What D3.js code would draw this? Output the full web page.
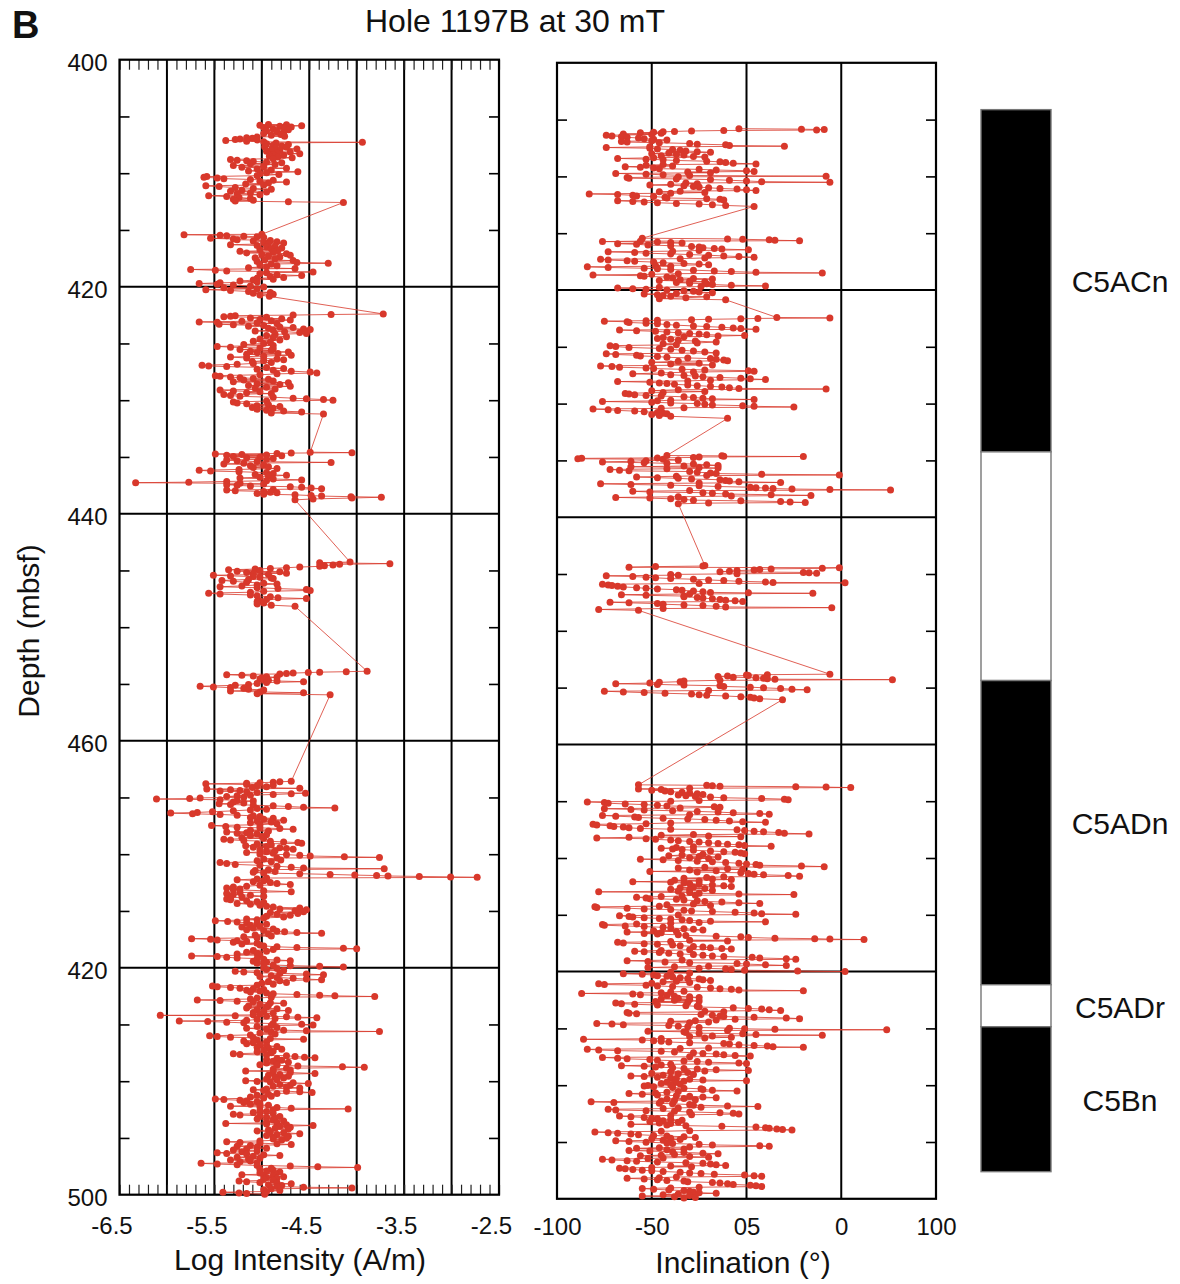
<!DOCTYPE html>
<html>
<head>
<meta charset="utf-8">
<script src="https://cdn.jsdelivr.net/npm/d3@7"></script>
<style>
  body { margin: 0; background: #fff; }
  svg { display: block; }
  text { font-family: "Liberation Sans", Arial, Helvetica, sans-serif; fill: #111; }
</style>
</head>
<body>
<svg id="chart" width="1180" height="1284"></svg>
<script>
// Hole 1197B, 30 mT demagnetization step: [depth (mbsf), log intensity (A/m)]
const intensityRecord = [
[405.70,-4.93],[405.74,-4.74],[405.78,-5.02],[405.82,-4.58],[405.87,-4.81],[405.92,-4.69],[405.97,-4.98],[406.02,-4.76],
[406.10,-4.88],[406.18,-4.72],[406.27,-4.95],[406.35,-4.84],[406.42,-4.77],[406.50,-4.98],[406.58,-4.80],[406.66,-4.90],[406.74,-4.76],
[406.82,-5.05],[406.88,-5.16],[406.93,-5.10],[406.98,-5.23],[407.03,-5.28],[407.08,-5.05],[407.12,-5.38],[407.18,-5.16],[407.24,-4.98],[407.28,-3.94],[407.33,-4.85],
[407.40,-4.95],[407.47,-4.72],[407.53,-4.88],[407.60,-4.79],[407.66,-4.97],[407.72,-4.74],[407.79,-4.86],[407.86,-4.63],[407.93,-4.90],[408.00,-4.81],[408.07,-4.95],[408.14,-4.70],[408.21,-4.84],[408.28,-4.60],[408.35,-4.88],[408.42,-4.77],[408.50,-4.92],[408.57,-4.83],[408.64,-4.68],
[408.72,-4.88],[408.79,-5.33],[408.85,-5.26],[408.90,-5.16],[408.96,-5.09],[409.02,-4.95],[409.08,-4.79],
[409.16,-5.12],[409.24,-4.86],[409.32,-5.30],[409.40,-4.98],[409.48,-5.21],[409.56,-4.74],[409.64,-5.05],[409.72,-4.90],[409.80,-5.14],[409.88,-4.62],[409.96,-4.95],[410.04,-5.02],[410.12,-4.82],
[410.22,-5.05],[410.30,-5.58],[410.36,-5.61],[410.42,-5.47],[410.48,-5.40],[410.55,-5.12],[410.62,-4.88],[410.70,-5.02],[410.78,-4.74],[410.86,-4.93],
[410.95,-5.17],[411.03,-4.98],[411.11,-5.59],[411.18,-5.45],[411.26,-5.28],[411.34,-5.09],[411.42,-4.90],[411.50,-5.21],[411.58,-5.33],[411.66,-4.95],[411.74,-5.12],[411.82,-5.26],[411.90,-5.02],
[411.98,-5.56],[412.06,-5.37],[412.14,-5.24],[412.22,-5.12],[412.30,-5.30],[412.38,-5.09],[412.46,-5.28],[412.52,-4.72],[412.58,-4.14],
[415.38,-5.00],[415.42,-5.82],[415.46,-5.44],[415.50,-5.37],[415.55,-5.19],[415.60,-5.05],[415.66,-4.98],
[415.74,-5.54],[415.80,-5.30],[415.86,-5.26],[415.92,-4.91],[415.98,-5.09],[416.04,-4.84],[416.10,-4.98],[416.16,-4.77],[416.22,-4.93],
[416.30,-5.33],[416.37,-5.05],[416.44,-4.86],[416.51,-4.95],[416.58,-4.79],[416.65,-4.90],[416.72,-5.02],[416.80,-4.83],
[416.88,-5.23],[416.95,-4.88],[417.02,-5.16],[417.09,-4.74],[417.16,-5.00],[417.23,-4.70],[417.30,-4.93],[417.38,-4.81],[417.46,-5.07],[417.54,-4.86],
[417.62,-4.97],[417.70,-4.67],[417.78,-5.05],[417.86,-4.63],[417.93,-4.30],[418.00,-4.90],
[418.08,-5.02],[418.16,-4.84],[418.24,-4.95],[418.32,-5.14],[418.40,-4.65],[418.48,-5.75],[418.55,-5.49],[418.62,-5.37],[418.70,-4.46],[418.78,-4.95],
[418.86,-5.02],[418.94,-4.84],[419.02,-4.58],[419.10,-4.91],[419.18,-4.77],[419.26,-5.05],[419.34,-4.88],
[419.42,-5.09],[419.50,-5.23],[419.58,-5.05],[419.66,-5.44],[419.72,-5.66],[419.78,-5.47],[419.86,-5.30],[419.94,-5.12],[420.02,-4.98],
[420.10,-5.40],[420.18,-5.05],[420.26,-5.59],[420.34,-5.33],[420.42,-5.14],[420.50,-4.91],[420.58,-5.09],[420.66,-4.88],[420.74,-5.02],[420.85,-4.92],
[422.40,-3.72],[422.45,-4.27],[422.50,-4.67],[422.55,-5.28],[422.60,-5.33],[422.65,-5.40],
[422.70,-4.95],[422.76,-5.12],[422.82,-4.79],[422.88,-5.02],[422.94,-4.70],[423.00,-4.90],[423.05,-5.21],[423.10,-5.66],[423.14,-5.47],[423.19,-5.05],[423.24,-4.84],
[423.30,-5.45],[423.36,-5.30],[423.42,-4.98],[423.48,-5.14],[423.54,-4.81],[423.60,-4.67],[423.66,-4.93],[423.72,-4.56],[423.78,-4.49],[423.84,-4.88],[423.90,-5.07],[423.96,-4.76],
[424.04,-4.60],[424.12,-4.53],[424.20,-4.86],[424.30,-4.95],[424.40,-4.74],[424.50,-4.88],[424.60,-5.02],[424.70,-4.81],
[424.80,-5.09],[424.90,-4.91],[425.00,-4.98],[425.10,-5.19],[425.18,-4.88],[425.26,-5.47],[425.33,-5.33],[425.40,-5.02],[425.47,-4.88],
[425.54,-5.23],[425.61,-4.90],[425.68,-5.12],[425.75,-4.72],[425.82,-5.05],[425.89,-4.83],[425.96,-5.16],[426.03,-4.69],
[426.12,-4.98],[426.20,-5.33],[426.28,-5.16],[426.36,-4.84],[426.44,-4.77],[426.52,-4.98],[426.60,-5.10],[426.68,-4.90],
[426.76,-5.09],[426.84,-5.26],[426.92,-5.63],[426.98,-5.56],[427.04,-5.37],[427.12,-4.95],[427.20,-4.77],[427.28,-5.05],
[427.36,-4.88],[427.44,-4.69],[427.52,-4.49],[427.60,-4.42],[427.68,-4.84],[427.76,-5.02],
[427.84,-5.49],[427.90,-5.44],[427.96,-5.33],[428.02,-5.23],[428.08,-5.09],[428.15,-4.93],
[428.22,-5.19],[428.30,-4.88],[428.38,-5.30],[428.46,-4.72],[428.54,-5.05],[428.62,-4.81],[428.70,-5.14],[428.78,-4.70],[428.86,-4.95],[428.94,-5.07],
[429.02,-4.86],[429.10,-5.44],[429.18,-5.30],[429.26,-5.02],[429.34,-5.16],[429.42,-4.90],
[429.50,-5.40],[429.58,-5.33],[429.66,-5.23],[429.74,-4.88],[429.82,-4.67],[429.88,-4.53],[429.94,-4.35],[430.00,-4.25],[430.08,-4.95],
[430.16,-5.30],[430.24,-5.26],[430.32,-5.16],[430.40,-4.93],[430.48,-5.05],[430.56,-4.81],[430.64,-5.10],[430.72,-4.88],
[430.80,-5.05],[430.88,-4.95],[430.96,-4.77],[431.04,-4.58],[431.12,-4.90],[431.22,-4.35],
[434.58,-4.49],[434.62,-4.05],[434.66,-4.69],[434.70,-4.84],[434.74,-5.49],[434.78,-5.21],[434.82,-4.95],[434.86,-5.37],[434.90,-4.79],
[434.96,-5.30],[435.02,-5.02],[435.08,-5.16],[435.14,-4.88],[435.20,-4.95],[435.27,-5.37],[435.34,-5.26],[435.41,-5.05],[435.48,-4.27],[435.55,-5.19],[435.62,-5.40],[435.70,-4.98],[435.78,-5.12],
[435.86,-4.93],[435.94,-5.09],[436.02,-4.84],[436.10,-5.24],[436.18,-5.66],[436.24,-5.54],[436.30,-5.24],[436.38,-4.95],[436.46,-4.88],[436.54,-5.07],[436.62,-4.74],[436.70,-4.93],
[436.78,-5.02],[436.86,-5.23],[436.94,-4.88],[437.02,-4.58],[437.10,-4.95],[437.16,-5.37],[437.22,-5.77],[437.27,-6.33],[437.32,-5.23],[437.38,-4.98],
[437.44,-5.37],[437.50,-5.26],[437.56,-5.12],[437.62,-4.70],[437.68,-4.58],[437.74,-4.48],[437.80,-4.37],[437.86,-4.88],
[437.92,-5.37],[437.98,-5.28],[438.04,-4.98],[438.10,-4.91],[438.16,-4.84],[438.22,-5.05],
[438.28,-4.98],[438.34,-4.65],[438.40,-4.48],[438.45,-4.37],[438.50,-4.06],[438.55,-3.74],[438.62,-4.05],[438.70,-4.46],[438.78,-4.65],
[444.26,-4.07],[444.32,-4.39],[444.40,-3.65],[444.46,-4.18],[444.52,-4.25],[444.58,-4.34],[444.64,-4.39],[444.70,-4.60],[444.76,-4.74],[444.82,-4.91],[444.88,-5.07],
[444.94,-5.35],[445.00,-5.02],[445.06,-5.26],[445.12,-4.81],[445.18,-5.16],[445.24,-4.74],[445.30,-5.09],[445.36,-4.93],
[445.42,-5.51],[445.48,-5.33],[445.54,-5.09],[445.60,-5.02],[445.66,-4.90],[445.72,-4.88],[445.80,-5.14],
[445.88,-5.42],[445.96,-5.30],[446.04,-5.16],[446.12,-4.98],[446.20,-4.84],[446.28,-5.05],[446.36,-5.21],
[446.44,-5.44],[446.52,-5.05],[446.60,-4.83],[446.68,-4.53],[446.76,-4.49],[446.84,-4.98],[446.92,-5.12],
[447.00,-5.56],[447.08,-5.44],[447.16,-5.12],[447.24,-5.05],[447.32,-4.91],[447.40,-4.83],[447.48,-4.53],[447.56,-4.95],[447.66,-5.02],
[447.76,-5.05],[447.86,-4.98],[447.96,-5.05],[448.06,-4.90],[448.16,-4.65],
[453.88,-3.89],[453.92,-4.11],[453.96,-4.39],[454.00,-4.51],[454.04,-4.67],[454.08,-4.74],[454.12,-4.81],
[454.18,-5.37],[454.24,-5.21],[454.30,-5.09],[454.36,-4.95],[454.42,-4.84],[454.48,-5.00],
[454.56,-5.02],[454.62,-4.98],[454.68,-4.93],[454.74,-4.84],[454.80,-4.56],[454.88,-4.95],[454.96,-5.05],
[455.04,-5.14],[455.12,-5.28],[455.20,-5.65],[455.26,-5.51],[455.32,-5.33],[455.38,-5.19],[455.46,-5.14],[455.54,-4.98],
[455.62,-5.33],[455.70,-5.02],[455.78,-4.56],[455.86,-5.05],[455.96,-4.28],
[463.58,-4.69],[463.62,-4.81],[463.66,-4.88],[463.70,-5.02],[463.75,-5.16],[463.80,-5.59],[463.86,-5.16],[463.92,-4.88],[463.98,-5.05],[464.05,-4.95],[464.12,-5.10],
[464.20,-4.60],[464.26,-5.58],[464.32,-5.33],[464.38,-5.23],[464.44,-5.44],[464.50,-5.16],[464.56,-5.05],[464.62,-4.54],[464.68,-4.69],[464.74,-4.88],[464.80,-5.12],
[464.86,-5.26],[464.92,-5.37],[464.98,-5.19],[465.04,-5.65],[465.10,-5.76],[465.14,-6.11],[465.20,-5.44],[465.26,-5.26],[465.32,-5.09],[465.40,-5.30],[465.48,-5.19],
[465.56,-5.45],[465.62,-5.33],[465.68,-5.09],[465.74,-4.88],[465.80,-4.72],[465.86,-4.56],[465.92,-4.23],[465.98,-5.05],[466.04,-4.95],[466.10,-5.12],
[466.18,-5.30],[466.26,-5.52],[466.32,-5.68],[466.38,-5.96],[466.44,-5.73],[466.50,-5.44],[466.56,-5.26],[466.62,-5.09],[466.68,-5.02],[466.76,-5.12],
[466.84,-4.88],[466.92,-4.98],[467.00,-4.77],[467.08,-5.05],[467.16,-4.90],[467.24,-5.12],[467.32,-4.84],[467.40,-5.02],
[467.48,-5.53],[467.55,-5.38],[467.62,-5.26],[467.68,-5.02],[467.74,-4.81],[467.80,-4.67],[467.88,-5.12],[467.96,-4.93],
[468.04,-5.37],[468.10,-5.16],[468.16,-5.26],[468.22,-5.05],[468.28,-4.95],[468.36,-5.12],[468.44,-5.00],[468.52,-5.21],[468.60,-4.98],
[468.68,-5.40],[468.74,-5.33],[468.80,-5.19],[468.86,-4.91],[468.92,-4.77],[468.98,-4.62],[469.04,-4.58],[469.10,-5.05],[469.18,-4.90],
[469.26,-5.17],[469.32,-4.95],[469.38,-5.09],[469.44,-4.81],[469.50,-4.74],[469.56,-4.67],[469.62,-5.02],[469.70,-4.86],[469.78,-4.95],
[469.86,-5.16],[469.92,-4.88],[469.98,-5.02],[470.04,-4.74],[470.10,-4.60],[470.16,-4.49],[470.22,-4.13],[470.28,-3.76],[470.34,-4.84],[470.42,-4.98],[470.50,-4.80],[470.58,-5.05],[470.66,-4.90],
[470.74,-5.44],[470.82,-5.37],[470.90,-5.28],[470.98,-5.02],[471.06,-4.84],[471.14,-4.69],[471.22,-4.56],[471.28,-3.71],[471.36,-4.93],[471.44,-5.07],[471.52,-4.86],
[471.60,-5.09],[471.66,-4.98],[471.72,-4.60],[471.78,-4.28],[471.84,-4.02],[471.88,-3.79],[471.92,-3.67],[471.96,-3.34],[472.00,-3.01],[472.04,-2.73],[472.10,-4.95],[472.18,-5.05],
[472.26,-5.26],[472.34,-4.98],[472.42,-5.09],[472.50,-4.91],[472.58,-4.84],[472.66,-4.70],[472.74,-5.02],[472.82,-5.16],
[472.90,-5.30],[472.98,-5.37],[473.06,-5.23],[473.14,-5.30],[473.22,-4.98],[473.30,-4.69],[473.38,-5.23],[473.46,-5.37],[473.54,-5.30],[473.62,-5.12],[473.70,-4.98],[473.78,-5.21],[473.86,-5.33],
[473.94,-5.37],[474.02,-5.33],[474.10,-5.16],[474.18,-5.05],[474.26,-4.98],[474.34,-5.26],[474.42,-5.12],[474.50,-5.02],
[474.58,-4.95],[474.66,-4.88],[474.74,-4.60],[474.82,-4.81],[474.90,-4.53],[474.98,-4.65],[475.06,-4.56],[475.14,-4.91],[475.22,-4.62],[475.30,-4.84],[475.38,-4.70],[475.46,-4.95],[475.54,-4.77],
[475.62,-4.98],[475.70,-5.16],[475.78,-5.05],[475.86,-5.49],[475.92,-5.36],[475.98,-5.26],[476.04,-5.16],[476.10,-5.05],[476.18,-4.95],[476.26,-5.12],[476.34,-5.02],
[476.42,-5.21],[476.50,-5.09],[476.58,-4.88],[476.66,-5.16],[476.72,-4.98],[476.78,-4.84],[476.84,-4.76],[476.90,-4.63],[476.96,-4.37],[477.04,-4.93],[477.12,-5.07],[477.20,-4.90],
[477.28,-5.19],[477.36,-5.05],[477.44,-5.74],[477.50,-5.54],[477.56,-5.47],[477.62,-5.26],[477.68,-5.16],[477.76,-5.30],[477.84,-5.05],[477.92,-5.21],
[478.00,-5.02],[478.08,-4.98],[478.16,-4.84],[478.22,-4.63],[478.28,-4.14],[478.34,-4.00],[478.40,-4.88],[478.48,-5.09],[478.56,-4.95],
[478.64,-5.16],[478.72,-5.05],[478.80,-5.26],[478.88,-5.02],[478.96,-5.74],[479.02,-5.47],[479.08,-5.37],[479.14,-5.26],[479.20,-5.05],[479.26,-4.98],[479.32,-4.84],[479.38,-4.70],[479.44,-5.09],
[479.52,-4.95],[479.60,-5.05],[479.68,-4.98],[479.76,-4.88],[479.82,-4.70],[479.88,-4.39],[479.94,-4.14],[480.00,-4.98],
[480.08,-4.84],[480.16,-4.95],[480.24,-4.77],[480.32,-5.28],[480.38,-5.19],[480.44,-5.05],[480.50,-4.81],[480.56,-4.53],[480.62,-4.35],[480.70,-4.90],
[480.78,-5.02],[480.86,-4.84],[480.94,-4.67],[481.00,-4.53],[481.06,-4.37],[481.14,-4.81],[481.22,-4.93],[481.30,-4.74],[481.38,-5.00],[481.46,-4.88],
[481.54,-5.05],[481.62,-5.52],[481.68,-5.47],[481.74,-5.33],[481.80,-5.23],[481.86,-5.09],[481.92,-4.98],[481.98,-5.16],[482.06,-5.02],[482.14,-5.12],
[482.22,-4.95],[482.30,-4.88],[482.36,-4.63],[482.42,-4.39],[482.48,-4.23],[482.54,-3.81],[482.60,-4.90],[482.68,-5.05],
[482.76,-5.12],[482.84,-5.68],[482.90,-5.44],[482.96,-5.26],[483.02,-5.09],[483.08,-4.91],[483.14,-4.77],[483.22,-5.02],[483.30,-4.93],[483.38,-5.14],
[483.46,-4.95],[483.54,-5.16],[483.62,-4.84],[483.70,-5.05],[483.78,-4.72],[483.86,-4.98],[483.94,-5.09],[484.02,-4.88],[484.10,-5.02],
[484.16,-5.09],[484.20,-6.07],[484.24,-5.28],[484.28,-4.95],[484.32,-4.74],[484.36,-4.62],[484.40,-4.42],[484.48,-4.86],[484.56,-5.05],
[484.64,-5.16],[484.70,-5.87],[484.74,-5.57],[484.80,-5.37],[484.86,-5.19],[484.92,-4.88],[484.98,-4.58],[485.04,-4.46],[485.10,-4.90],[485.18,-5.05],[485.26,-4.84],
[485.34,-5.16],[485.42,-4.95],[485.50,-4.77],[485.56,-4.53],[485.62,-3.76],[485.68,-4.90],[485.76,-5.02],[485.84,-4.86],
[485.92,-5.12],[486.00,-5.55],[486.06,-5.47],[486.12,-5.33],[486.18,-5.09],[486.24,-4.91],[486.30,-4.56],[486.38,-5.05],[486.46,-5.19],[486.54,-4.95],[486.62,-5.09],
[486.70,-5.16],[486.78,-5.02],[486.86,-4.95],[486.94,-4.84],[487.02,-5.05],[487.10,-4.93],[487.18,-4.79],[487.26,-4.98],[487.34,-4.88],
[487.42,-5.05],[487.50,-4.90],[487.58,-5.30],[487.64,-5.23],[487.70,-4.95],[487.76,-4.74],[487.82,-4.65],[487.88,-4.55],[487.94,-4.44],[488.00,-4.84],[488.08,-4.95],[488.16,-4.79],
[488.24,-4.88],[488.32,-4.72],[488.40,-4.95],[488.48,-4.84],[488.54,-5.02],[488.60,-4.84],[488.66,-4.62],[488.72,-4.15],[488.78,-3.92],[488.86,-4.74],[488.94,-4.88],
[489.02,-4.70],[489.10,-5.17],[489.16,-4.88],[489.24,-4.70],[489.32,-4.44],[489.40,-4.81],[489.48,-4.93],[489.56,-4.72],[489.64,-4.86],
[489.72,-4.77],[489.80,-4.95],[489.88,-4.84],[489.96,-5.17],[490.02,-5.05],[490.08,-4.91],[490.14,-4.67],[490.20,-4.51],[490.28,-4.81],[490.36,-4.70],
[490.44,-4.88],[490.52,-4.74],[490.60,-4.60],[490.68,-4.95],[490.76,-5.09],[490.82,-4.98],[490.88,-4.74],[490.94,-4.60],[491.00,-4.47],[491.08,-4.84],[491.16,-4.93],
[491.24,-5.05],[491.32,-4.90],[491.40,-5.12],[491.48,-4.98],[491.56,-5.49],[491.62,-5.40],[491.68,-5.23],[491.74,-5.16],[491.80,-5.05],[491.88,-5.19],[491.96,-5.02],
[492.04,-5.12],[492.12,-4.93],[492.20,-5.33],[492.26,-5.02],[492.32,-4.84],[492.38,-4.69],[492.44,-4.09],[492.52,-4.88],[492.60,-5.02],
[492.68,-4.95],[492.76,-5.09],[492.84,-4.88],[492.92,-5.30],[492.98,-5.23],[493.04,-5.02],[493.10,-4.81],[493.18,-4.95],[493.26,-4.86],[493.34,-5.05],
[493.42,-4.88],[493.50,-4.77],[493.58,-4.95],[493.66,-4.84],[493.72,-5.38],[493.78,-4.95],[493.84,-4.74],[493.90,-4.46],[493.98,-4.81],[494.06,-4.70],
[494.14,-4.86],[494.22,-4.72],[494.30,-4.93],[494.38,-5.05],[494.46,-4.91],[494.54,-4.77],[494.62,-4.60],[494.70,-4.84],[494.78,-4.95],[494.86,-4.72],
[494.94,-4.88],[495.02,-4.74],[495.10,-4.88],[495.18,-4.79],[495.26,-5.02],[495.34,-5.37],[495.40,-5.23],[495.46,-5.02],[495.52,-4.84],[495.58,-4.69],[495.66,-5.12],[495.74,-5.26],[495.82,-5.05],[495.90,-4.95],
[495.98,-5.16],[496.06,-5.30],[496.14,-5.05],[496.22,-5.21],[496.30,-5.47],[496.36,-5.37],[496.42,-5.16],[496.48,-4.98],[496.54,-4.81],[496.62,-5.09],[496.70,-5.26],[496.78,-5.02],[496.86,-5.14],
[496.94,-5.33],[497.02,-5.12],[497.10,-5.23],[497.18,-5.05],[497.24,-5.64],[497.30,-5.47],[497.36,-5.26],[497.42,-5.05],[497.48,-4.70],[497.54,-4.41],[497.60,-3.99],[497.68,-4.90],[497.76,-5.02],
[497.84,-4.88],[497.92,-4.95],[498.00,-4.81],[498.08,-5.02],[498.16,-4.86],
[498.24,-5.21],[498.30,-4.98],[498.36,-4.88],[498.42,-4.77],[498.48,-4.95],[498.56,-4.84],
[498.64,-4.98],[498.72,-4.88],[498.80,-5.24],[498.86,-5.16],[498.92,-5.02],[498.98,-4.84],[499.04,-4.69],[499.12,-4.93],[499.20,-4.79],
[499.28,-4.84],[499.34,-4.56],[499.40,-4.05],[499.48,-4.90],[499.56,-4.98],[499.64,-4.81],[499.72,-4.95],
[499.78,-5.41],[499.84,-5.24],[499.90,-5.16],[499.96,-4.97]
];

// Same hole and step: [depth (mbsf), inclination (degrees)]
const inclinationRecord = [
[405.80,-4],[405.84,29],[405.88,41],[405.92,37],[405.96,-12],[406.00,-29],[406.04,-38],[406.08,-44],[406.12,-49],[406.16,-56],[406.20,-45],
[406.26,-65],[406.32,-50],[406.38,-74],[406.44,-71],[406.50,-66],[406.56,-63],[406.62,-57],[406.68,-54],[406.74,-49],[406.80,-42],[406.86,-50],[406.92,-66],[406.98,-63],
[407.04,-46],[407.10,-30],[407.16,-26],[407.22,-11],[407.28,-9],[407.34,20],[407.40,-51],[407.46,-74],
[407.52,-51],[407.58,-47],[407.64,-39],[407.70,-35],[407.76,-32],[407.82,-26],[407.88,-19],[407.94,-41],[408.00,-50],[408.06,-37],[408.12,-33],[408.18,-45],[408.24,-28],[408.30,-22],[408.36,-49],
[408.42,-68],[408.48,-53],[408.54,-44],[408.60,-37],[408.66,-21],[408.72,-14],[408.78,-11],[408.84,-7],[408.90,5],[408.96,-44],[409.02,-53],
[409.08,-39],[409.14,-64],[409.20,-56],[409.26,-49],[409.32,-46],[409.38,-25],[409.44,-16],[409.50,0],[409.56,4],[409.62,-31],[409.68,-19],
[409.74,-69],[409.80,-53],[409.86,-44],[409.92,-30],[409.98,42],[410.04,-36],
[410.10,-63],[410.16,-62],[410.22,-37],[410.28,-19],[410.34,-9],[410.40,0],[410.46,8],[410.52,44],[410.58,-32],[410.64,-26],[410.70,-40],
[410.76,-51],[410.82,-33],[410.88,-28],[410.94,-25],[411.00,-20],[411.06,-14],[411.12,-5],[411.18,0],[411.24,5],[411.30,-35],[411.36,-46],[411.42,-22],
[411.48,-40],[411.54,-83],[411.60,-68],[411.66,-60],[411.72,-58],[411.78,-49],[411.84,-43],[411.90,-42],[411.96,-21],[412.02,-14],[412.08,-12],
[412.14,-68],[412.20,-60],[412.26,-54],[412.32,-47],[412.38,-37],[412.44,-25],[412.50,-18],[412.56,-11],[412.64,4],
[415.44,-55],[415.50,-10],[415.54,-2],[415.58,12],[415.62,15],[415.66,28],[415.70,-56],[415.74,-76],[415.78,-47],[415.82,-40],[415.86,-34],
[415.92,-68],[415.98,-58],[416.04,-52],[416.10,-40],[416.16,-29],[416.22,-25],[416.28,-23],[416.34,-17],[416.40,-13],[416.46,1],[416.52,-25],[416.58,-39],
[416.64,-73],[416.70,-59],[416.76,-53],[416.82,-40],[416.88,-30],[416.94,-20],[417.00,-12],[417.06,-4],[417.12,4],[417.18,-22],[417.24,-35],
[417.30,-77],[417.36,-73],[417.42,-63],[417.48,-59],[417.54,-49],[417.60,-44],[417.66,-33],[417.72,-25],[417.78,-20],[417.84,-48],[417.90,-40],
[417.96,-84],[418.02,-73],[418.08,-54],[418.14,-47],[418.20,-40],[418.26,-28],[418.32,-17],[418.38,-8],[418.44,5],[418.50,40],[418.56,-36],[418.62,-50],
[418.68,-81],[418.74,-56],[418.80,-54],[418.86,-42],[418.92,-39],[418.98,-28],[419.04,-18],[419.10,-35],[419.16,-46],[419.22,-30],[419.28,-22],
[419.34,-37],[419.40,-30],[419.46,-21],[419.52,-18],[419.58,-8],[419.64,10],[419.70,-24],
[419.76,-46],[419.82,-68],[419.88,-60],[419.94,-53],[420.00,-42],[420.06,-33],[420.12,-28],[420.18,-25],[420.24,-18],[420.30,-37],
[420.36,-54],[420.42,-47],[420.48,-44],[420.54,-40],[420.60,-21],[420.68,-32],[420.76,-46],[420.86,-11],
[422.42,16],[422.46,44],[422.50,6],[422.54,-3],[422.58,-20],[422.62,-29],[422.66,-47],[422.70,-53],[422.74,-75],
[422.80,-63],[422.86,-62],[422.92,-53],[422.98,-47],[423.04,-42],[423.10,-37],[423.16,-28],[423.22,-21],[423.28,-13],[423.34,-7],[423.40,-3],[423.46,5],
[423.52,-67],[423.58,-58],[423.64,-48],[423.70,-42],[423.76,-36],[423.82,-30],[423.88,-25],[423.94,-21],[424.00,-1],[424.06,-15],[424.12,-33],[424.18,-44],
[424.26,-47],[424.34,-40],[424.42,-36],[424.50,-27],[424.58,-16],[424.66,-26],[424.74,-44],
[424.82,-37],[424.90,-72],[424.98,-69],[425.06,-62],[425.14,-46],[425.22,-40],[425.30,-34],[425.38,-28],[425.46,-22],[425.54,-16],
[425.62,-74],[425.68,-69],[425.74,-58],[425.80,-56],[425.86,-47],[425.92,-42],[425.98,-31],[426.04,-19],[426.10,-16],[426.16,-12],[426.22,-10],[426.28,-36],[426.36,-50],[426.44,-25],[426.52,-40],[426.60,-18],
[426.68,-77],[426.74,-71],[426.80,-67],[426.86,-53],[426.92,-49],[426.98,-34],[427.04,-22],[427.10,1],[427.16,4],[427.22,-28],[427.30,-45],[427.38,-60],
[427.46,-40],[427.52,-33],[427.58,-27],[427.64,-23],[427.70,-14],[427.76,-3],[427.82,2],[427.88,10],[427.94,-19],[428.00,-31],
[428.06,-68],[428.12,-51],[428.18,-46],[428.24,-42],[428.30,-38],[428.36,-31],[428.42,-26],[428.48,-19],[428.54,-13],[428.60,-9],[428.66,-4],[428.72,42],[428.78,-36],[428.86,-50],[428.94,-22],[429.02,-44],
[429.10,-64],[429.16,-62],[429.22,-59],[429.28,-53],[429.34,-45],[429.40,-33],[429.46,-28],[429.52,-23],[429.58,-18],[429.64,4],[429.70,-40],[429.76,-47],
[429.82,-76],[429.88,-50],[429.94,-40],[430.00,-26],[430.06,-22],[430.12,-18],[430.18,-2],[430.24,4],[430.30,25],[430.36,-33],[430.42,-45],
[430.48,-81],[430.54,-73],[430.60,-68],[430.66,-59],[430.72,-54],[430.78,-47],[430.84,-44],[430.90,-42],[430.96,-50],[431.04,-46],[431.12,-40],
[431.30,-10],
[434.57,-42],[434.60,-13],[434.63,-12],[434.66,30],[434.70,-25],[434.74,-28],[434.78,-47],[434.82,-87],[434.86,-89],[434.90,-44],
[434.96,-36],[435.02,-53],[435.08,-61],[435.14,-76],[435.20,-54],[435.26,-42],[435.32,-28],[435.38,-21],[435.44,-15],[435.50,-33],[435.56,-61],[435.62,-25],[435.68,-15],[435.74,-42],
[435.80,-72],[435.86,-67],[435.92,-62],[435.98,-30],[436.04,-26],[436.10,-19],[436.16,-16],[436.22,8],[436.28,49],[436.34,-21],[436.40,-37],
[436.46,-58],[436.52,-47],[436.58,-36],[436.64,-29],[436.70,-14],[436.76,-11],[436.82,-9],[436.88,-4],[436.94,18],[437.00,-25],
[437.06,-77],[437.12,-61],[437.18,-40],[437.24,-25],[437.30,-15],[437.36,2],[437.40,5],[437.44,10],[437.48,14],[437.52,24],[437.56,44],[437.60,76],[437.66,-30],
[437.72,-60],[437.78,-51],[437.84,-23],[437.90,-18],[437.96,-11],[438.02,13],[438.08,34],[438.14,-8],[438.20,-36],
[438.26,-69],[438.32,-51],[438.38,-40],[438.44,-33],[438.50,-28],[438.56,-3],[438.62,18],[438.66,23],[438.70,31],[438.76,-20],[438.82,-36],
[444.25,-22],[444.30,-23],[444.35,-48],[444.40,-62],[444.45,49],[444.50,40],[444.55,13],[444.60,7],[444.65,4],[444.70,-5],[444.75,-9],[444.80,-14],
[444.86,30],[444.90,33],[444.94,37],[444.98,-5],[445.04,-40],[445.10,-36],
[445.16,-74],[445.22,-60],[445.28,-53],[445.34,-48],[445.40,-40],[445.46,-28],[445.52,-20],[445.58,-12],[445.64,-4],[445.70,10],[445.74,14],[445.78,52],[445.84,-25],
[445.90,-76],[445.96,-73],[446.02,-71],[446.08,-68],[446.14,-65],[446.20,-58],[446.26,-53],[446.32,-47],[446.38,-37],[446.44,-34],[446.50,-28],[446.56,-23],[446.62,-19],[446.66,1],[446.70,35],[446.76,-30],
[446.82,-66],[446.88,-53],[446.94,-33],[447.00,-33],[447.06,-26],[447.12,-23],[447.18,-18],[447.24,-14],[447.30,-11],[447.36,-6],[447.42,-2],
[447.48,-72],[447.54,-62],[447.60,-47],[447.66,-44],[447.72,-33],[447.78,-23],[447.84,-16],[447.90,-11],[447.96,45],[448.04,-44],
[448.12,-78],[448.20,-57],
[453.82,44],[453.86,11],[453.90,0],[453.94,1],[453.98,-10],[454.02,-15],
[454.08,-7],[454.14,5],[454.18,9],[454.22,11],[454.26,15],[454.30,77],[454.36,-14],[454.42,-33],[454.48,-35],[454.54,-46],[454.60,-51],[454.66,-69],
[454.72,-47],[454.78,-33],[454.84,-14],[454.90,-12],[454.96,2],[455.02,9],[455.08,18],[455.14,24],[455.20,32],[455.26,-20],
[455.32,-75],[455.38,-65],[455.44,-54],[455.50,-43],[455.56,-29],[455.62,-25],[455.68,-21],[455.74,-11],[455.80,-3],[455.86,2],[455.92,4],[455.98,7],
[456.06,19],
[463.56,-57],[463.60,-21],[463.64,-18],[463.68,-14],[463.72,26],[463.76,42],[463.80,55],[463.86,-30],[463.92,-57],[463.98,-45],
[464.04,-50],[464.10,-43],[464.16,-40],[464.22,-34],[464.28,-30],[464.34,-26],[464.40,-23],[464.46,-36],
[464.52,-32],[464.58,-27],[464.64,-19],[464.70,-12],[464.76,8],[464.82,20],[464.88,22],[464.94,-25],[465.00,-40],
[465.06,-84],[465.12,-75],[465.18,-73],[465.24,-64],[465.30,-54],[465.36,-47],[465.42,-42],[465.48,-17],[465.54,-14],[465.60,-35],
[465.66,-75],[465.72,-61],[465.78,-54],[465.84,-39],[465.90,-26],[465.96,-15],[466.02,-7],[466.08,7],[466.14,12],[466.20,-30],
[466.26,-76],[466.32,-69],[466.38,-59],[466.44,-57],[466.50,-44],[466.56,-31],[466.62,-22],[466.68,-16],[466.74,-9],[466.80,-2],[466.86,10],[466.92,-40],[466.98,-53],
[467.04,-81],[467.10,-79],[467.16,-72],[467.22,-70],[467.28,-65],[467.34,-62],[467.40,-56],[467.46,-40],[467.52,-5],[467.58,-1],[467.64,4],[467.70,9],[467.76,17],[467.82,20],[467.88,33],[467.94,-28],[468.00,-45],[468.06,-20],[468.12,-3],[468.18,-62],[468.24,-79],
[468.30,-53],[468.36,-48],[468.42,-40],[468.48,-36],[468.54,-30],[468.60,-25],[468.66,-20],[468.72,-15],[468.78,-10],[468.84,-4],[468.90,-1],[468.96,13],[469.02,-28],[469.08,-37],
[469.14,-45],[469.20,-39],[469.26,-34],[469.32,-28],[469.38,-19],[469.44,-12],[469.50,-6],[469.56,-3],[469.62,-1],[469.68,-23],[469.74,-34],[469.80,-41],[469.86,-25],[469.92,-15],[469.98,-30],[470.04,-20],
[470.10,-56],[470.16,-44],[470.22,-36],[470.28,-26],[470.34,-18],[470.40,-11],[470.46,-4],[470.52,0],[470.58,5],[470.64,7],[470.70,29],[470.76,41],[470.82,-22],[470.88,-36],[470.94,-10],[471.00,-2],[471.06,-30],[471.12,-16],
[471.18,-51],[471.24,-26],[471.30,-3],[471.36,1],[471.42,4],[471.48,9],[471.54,22],[471.60,28],[471.66,-12],[471.72,-21],[471.78,-33],[471.84,-18],[471.90,-8],[471.96,-38],[472.02,-25],
[472.08,-60],[472.14,-40],[472.20,-33],[472.26,-30],[472.32,-25],[472.38,-18],[472.44,-12],[472.50,-8],[472.56,-28],[472.62,-35],
[472.68,-22],[472.74,-40],[472.80,-30],[472.86,-18],[472.92,-36],[472.98,-78],[473.04,-30],[473.10,-25],[473.16,-4],[473.22,25],[473.28,-27],[473.34,-34],[473.40,-45],
[473.46,-58],[473.52,-53],[473.58,-51],[473.64,-37],[473.70,-33],[473.76,-26],[473.82,-22],[473.88,-13],[473.94,-4],[474.00,7],[474.06,-28],[474.12,-42],[474.18,-19],
[474.24,-46],[474.30,-80],[474.36,-79],[474.42,-63],[474.48,-54],[474.54,-40],[474.60,-33],[474.66,-29],[474.72,-18],[474.78,-6],[474.84,4],[474.90,8],[474.96,26],[475.02,-36],
[475.08,-67],[475.14,-62],[475.20,-60],[475.26,-54],[475.32,-46],[475.38,-40],[475.44,-34],[475.50,-30],[475.56,-19],[475.62,10],[475.68,-25],[475.74,-40],
[475.80,-58],[475.86,-76],[475.92,-75],[475.98,-64],[476.04,-54],[476.10,-44],[476.16,-40],[476.22,-33],[476.28,-28],[476.34,-23],[476.40,-49],[476.46,-37],[476.52,-63],[476.58,-45],
[476.64,-54],[476.70,-47],[476.76,-36],[476.82,-32],[476.88,-16],[476.94,-3],[477.00,1],[477.06,15],[477.10,36],[477.14,44],[477.18,62],[477.24,-30],[477.30,-10],[477.36,-40],
[477.42,-68],[477.48,-65],[477.54,-54],[477.60,-47],[477.66,-39],[477.72,-35],[477.78,-28],[477.84,-23],[477.90,-19],[477.96,-13],[478.02,-8],[478.08,-30],[478.14,-45],
[478.20,-59],[478.26,-54],[478.32,-46],[478.38,-41],[478.44,-35],[478.50,-28],[478.56,-23],[478.62,-18],[478.68,-12],[478.74,3],[478.80,7],[478.86,21],[478.92,26],[478.98,-34],
[479.04,-63],[479.10,-52],[479.16,-43],[479.22,-30],[479.28,-5],[479.34,0],[479.40,10],[479.46,21],[479.52,-20],[479.58,-38],
[479.64,-52],[479.70,-25],[479.76,-11],[479.82,-8],[479.88,-1],[479.94,27],[480.00,52],[480.06,-40],
[480.12,-30],[480.18,-65],[480.24,-55],[480.30,-49],[480.36,-47],[480.42,-42],[480.48,-39],[480.54,-35],[480.60,-31],[480.66,-25],[480.72,-23],[480.78,-19],[480.84,-37],
[480.90,-44],[480.96,-30],[481.02,-50],[481.08,-78],[481.14,-75],[481.20,-53],[481.26,-47],[481.32,-39],[481.38,-26],[481.44,-19],[481.50,-14],[481.56,-8],[481.62,-4],[481.68,30],[481.74,-33],[481.80,-40],
[481.86,-45],[481.92,-87],[481.98,-60],[482.04,-56],[482.10,-42],[482.16,-38],[482.22,-30],[482.28,-25],[482.34,-36],[482.40,-45],[482.46,-30],[482.52,-38],[482.58,-25],
[482.64,-48],[482.70,-31],[482.76,-69],[482.82,-66],[482.88,-59],[482.94,-47],[483.00,-32],[483.06,-26],[483.12,-25],[483.18,-7],[483.24,1],[483.30,8],[483.36,12],[483.42,18],[483.48,-22],[483.54,-12],
[483.60,-63],[483.66,-62],[483.72,-58],[483.78,-24],[483.84,-18],[483.90,-14],[483.96,-12],[484.02,4],[484.08,21],[484.14,28],[484.20,-6],[484.26,-16],[484.32,-27],
[484.38,-40],[484.44,-20],[484.50,-30],[484.56,-79],[484.62,-71],[484.68,-65],[484.74,-41],[484.80,-36],[484.86,-31],[484.92,-25],[484.98,-9],[485.04,-1],[485.08,15],[485.12,74],[485.18,-10],
[485.24,-52],[485.30,-33],[485.36,-32],[485.42,-25],[485.48,-2],[485.54,5],[485.60,40],[485.66,-18],[485.72,-30],[485.78,-8],[485.84,-22],
[485.90,-45],[485.96,-86],[486.02,-55],[486.08,-49],[486.14,-45],[486.20,-41],[486.26,-30],[486.32,-12],[486.38,-9],[486.44,-4],[486.50,4],[486.56,11],[486.62,14],[486.66,30],[486.72,-20],[486.78,-35],
[486.84,-84],[486.90,-78],[486.96,-68],[487.02,-45],[487.08,-38],[487.14,-28],[487.20,-23],[487.26,-16],[487.32,-12],[487.38,-6],[487.44,2],[487.50,-30],
[487.56,-76],[487.62,-68],[487.68,-63],[487.74,-51],[487.80,-47],[487.86,-33],[487.92,-26],[487.98,-20],[488.04,-4],[488.10,0],[488.16,-40],[488.22,-45],
[488.28,-66],[488.34,-54],[488.40,-48],[488.46,-39],[488.52,-33],[488.58,-26],[488.64,-16],[488.70,1],[488.76,-22],[488.82,-40],[488.88,-31],[488.94,-50],[489.00,-36],[489.06,-28],
[489.12,-44],[489.18,-61],[489.24,-54],[489.30,-47],[489.36,-40],[489.42,-37],[489.48,-30],[489.54,-23],[489.60,0],[489.66,-33],[489.72,-42],[489.78,-38],
[489.84,-45],[489.90,-35],[489.96,-40],[490.02,-52],[490.08,-54],[490.14,-49],[490.20,-39],[490.26,-33],[490.32,-24],[490.38,-23],[490.44,-18],[490.50,-5],[490.56,-36],[490.62,-42],
[490.68,-48],[490.74,-62],[490.80,-55],[490.86,-47],[490.92,-37],[490.98,-30],[491.04,-23],[491.10,-16],[491.16,-33],[491.22,-42],[491.28,-27],[491.34,-38],
[491.40,-45],[491.46,-82],[491.52,-70],[491.58,-46],[491.64,-39],[491.70,-30],[491.76,-28],[491.82,-10],[491.88,6],[491.94,-24],[492.00,-36],
[492.06,-44],[492.12,-73],[492.18,-69],[492.24,-53],[492.30,-38],[492.36,-30],[492.42,-14],[492.48,-7],[492.54,-4],[492.60,-29],
[492.66,-40],[492.72,-67],[492.78,-61],[492.84,-54],[492.90,-50],[492.96,-47],[493.02,-40],[493.08,-34],[493.14,-44],[493.20,-51],[493.26,-36],[493.32,-46],
[493.38,-40],[493.44,-61],[493.50,-42],[493.56,-32],[493.62,-13],[493.68,5],[493.74,10],[493.80,12],[493.86,16],[493.90,19],[493.94,24],[494.00,-30],
[494.06,-45],[494.12,-80],[494.18,-73],[494.24,-68],[494.30,-61],[494.36,-57],[494.42,-49],[494.48,-42],[494.54,-33],[494.60,-27],[494.66,-40],[494.72,-50],[494.78,-35],
[494.84,-44],[494.90,-69],[494.96,-62],[495.02,-53],[495.08,-42],[495.14,-39],[495.20,-25],[495.26,-18],[495.32,7],[495.38,12],[495.44,-30],[495.50,-46],[495.56,-58],[495.62,-33],
[495.68,-42],[495.74,-62],[495.80,-51],[495.86,-39],[495.92,-33],[495.98,-23],[496.04,-15],[496.10,-38],[496.16,-45],[496.22,-56],[496.28,-30],[496.34,-20],[496.40,-44],
[496.46,-52],[496.52,-76],[496.58,-71],[496.64,-63],[496.70,-58],[496.76,-47],[496.82,-32],[496.88,-23],[496.94,-19],[497.00,-16],[497.06,-11],[497.12,-40],[497.18,-29],
[497.24,-50],[497.30,-67],[497.36,-64],[497.42,-60],[497.48,-55],[497.54,-50],[497.60,-44],[497.66,-35],[497.72,-30],[497.78,-24],[497.84,-17],[497.90,-1],[497.96,4],[498.02,8],[498.08,-37],[498.14,-46],
[498.20,-63],[498.26,-54],[498.32,-47],[498.38,-42],[498.44,-33],[498.50,-31],[498.56,-18],[498.62,-14],[498.68,-10],[498.74,-7],[498.80,2],[498.86,5],[498.92,8],[498.98,-25],[499.04,-40],
[499.10,-55],[499.16,-49],[499.22,-41],[499.28,-33],[499.34,-30],[499.40,-28],[499.46,-25],[499.52,-16],[499.58,-36],[499.64,-44],[499.70,-30],[499.76,-55],[499.82,-38],[499.88,-27],[499.94,-33]
];

// Axis labelling (the fifth depth label is printed as "420" on this figure)
const depthLabelValues = [400, 420, 440, 460, 480, 500];
const depthLabels = ["400", "420", "440", "460", "420", "500"];
const depthGrid = [420, 440, 460, 480];
const depthTicks = [405, 410, 415, 425, 430, 435, 445, 450, 455, 465, 470, 475, 485, 490, 495];
const intensityTickValues = [-6.5, -5.5, -4.5, -3.5, -2.5];
const intensityTickLabels = ["-6.5", "-5.5", "-4.5", "-3.5", "-2.5"];
const intensityGrid = [-6, -5.5, -5, -4.5, -4, -3.5, -3];
const inclinationTickValues = [-100, -50, 0, 50, 100];
const inclinationTickLabels = ["-100", "-50", "05", "0", "100"];
const inclinationGrid = [-50, 0, 50];

// Magnetostratigraphic interpretation (depths in mbsf)
const chronTop = [404.4, 434.55, 454.7, 481.5, 485.2];
const chronBase = [434.55, 454.7, 481.5, 485.2, 497.97];
const chronNormal = [true, false, true, false, true];
const chronNames = ["C5ACn", "C5ADn", "C5ADr", "C5Bn"];
const chronLabelDepth = [419.5, 467.3, 483.5, 491.7];

const svg = d3.select("#chart");
const RED = "#d8382b";

// Scales for the two panels
const xL = d3.scaleLinear().domain([-6.5, -2.5]).range([119.5, 499]);
const yL = d3.scaleLinear().domain([400, 500]).range([59.7, 1194.7]);
const xR = d3.scaleLinear().domain([-100, 100]).range([557, 936]);
const yR = d3.scaleLinear().domain([400, 500]).range([62.8, 1198.8]);

function panel(x, y, vGrid, options) {
  const g = svg.append("g");
  const [x0, x1] = x.range();
  const [y0, y1] = y.range();
  // grid
  g.selectAll(".vg").data(vGrid).join("line")
    .attr("x1", d => x(d)).attr("x2", d => x(d)).attr("y1", y0).attr("y2", y1)
    .attr("stroke", "#000").attr("stroke-width", 2);
  g.selectAll(".hg").data(depthGrid).join("line")
    .attr("x1", x0).attr("x2", x1).attr("y1", d => y(d)).attr("y2", d => y(d))
    .attr("stroke", "#000").attr("stroke-width", 2);
  // inward depth ticks on both sides
  const tl = g.append("g").attr("transform", `translate(${x0},0)`)
    .call(d3.axisRight(y).tickValues(depthTicks).tickSize(10).tickFormat(""));
  const tr = g.append("g").attr("transform", `translate(${x1},0)`)
    .call(d3.axisLeft(y).tickValues(depthTicks).tickSize(10).tickFormat(""));
  [tl, tr].forEach(a => { a.select(".domain").remove(); a.selectAll("line").attr("stroke-width", 1.6); });
  if (options.minor) {
    const minor = d3.ticks(-6.5, -2.5, 40);
    const tt = g.append("g").attr("transform", `translate(0,${y0})`)
      .call(d3.axisBottom(x).tickValues(minor).tickSize(10).tickFormat(""));
    const tb = g.append("g").attr("transform", `translate(0,${y1})`)
      .call(d3.axisTop(x).tickValues(minor).tickSize(10).tickFormat(""));
    [tt, tb].forEach(a => { a.select(".domain").remove(); a.selectAll("line").attr("stroke-width", 1.2).attr("stroke", "#222"); });
  }
  // frame
  g.append("rect").attr("x", x0).attr("y", y0).attr("width", x1 - x0).attr("height", y1 - y0)
    .attr("fill", "none").attr("stroke", "#000").attr("stroke-width", 2.2);
  return g;
}

function record(data, x, y) {
  const g = svg.append("g");
  const line = d3.line().x(d => x(d[1])).y(d => y(d[0]));
  g.append("path").datum(data).attr("d", line)
    .attr("fill", "none").attr("stroke", RED).attr("stroke-opacity", 0.8).attr("stroke-width", 1);
  g.selectAll("circle").data(data).join("circle")
    .attr("cx", d => x(d[1])).attr("cy", d => y(d[0])).attr("r", 3.5).attr("fill", RED);
}

panel(xL, yL, intensityGrid, { minor: true });
panel(xR, yR, inclinationGrid, { minor: false });
record(intensityRecord, xL, yL);
record(inclinationRecord, xR, yR);

// Depth labels
const ay = svg.append("g").attr("transform", `translate(${xL(-6.5)},0)`)
  .call(d3.axisLeft(yL).tickValues(depthLabelValues).tickSize(0).tickPadding(12)
    .tickFormat((d, i) => depthLabels[i]));
ay.select(".domain").remove();
ay.selectAll("text").attr("font-size", 24).attr("dy", "0.46em")
  .style("font-family", '"Liberation Sans", Arial, sans-serif');

// Intensity labels
const axL = svg.append("g").attr("transform", `translate(0,${yL(500)})`)
  .call(d3.axisBottom(xL).tickValues(intensityTickValues).tickSize(0).tickPadding(22)
    .tickFormat((d, i) => intensityTickLabels[i]));
axL.select(".domain").remove();
axL.selectAll("text").attr("font-size", 24).attr("dx", -8)
  .style("font-family", '"Liberation Sans", Arial, sans-serif');

// Inclination labels
const axR = svg.append("g").attr("transform", `translate(0,${yR(500)})`)
  .call(d3.axisBottom(xR).tickValues(inclinationTickValues).tickSize(0).tickPadding(19)
    .tickFormat((d, i) => inclinationTickLabels[i]));
axR.select(".domain").remove();
axR.selectAll("text").attr("font-size", 24)
  .style("font-family", '"Liberation Sans", Arial, sans-serif');

// Titles
svg.append("text").attr("x", 12).attr("y", 38).attr("font-size", 38).attr("font-weight", "bold").text("B");
svg.append("text").attr("x", 515).attr("y", 32).attr("font-size", 32).attr("text-anchor", "middle").text("Hole 1197B at 30 mT");
svg.append("text").attr("x", 300).attr("y", 1270).attr("font-size", 30).attr("text-anchor", "middle").text("Log Intensity (A/m)");
svg.append("text").attr("x", 743).attr("y", 1273).attr("font-size", 30).attr("text-anchor", "middle").text("Inclination (°)");
svg.append("text").attr("transform", "translate(39,631) rotate(-90)").attr("font-size", 30)
  .attr("text-anchor", "middle").text("Depth (mbsf)");

// Polarity column
const col = svg.append("g");
col.selectAll("rect").data(chronTop).join("rect")
  .attr("x", 981).attr("width", 70)
  .attr("y", d => yL(d)).attr("height", (d, i) => yL(chronBase[i]) - yL(d))
  .attr("fill", (d, i) => chronNormal[i] ? "#000" : "#fff")
  .attr("stroke", "#777").attr("stroke-width", 1.4);
col.selectAll("text").data(chronNames).join("text")
  .attr("x", 1120).attr("y", (d, i) => yL(chronLabelDepth[i]))
  .attr("dy", "0.36em").attr("text-anchor", "middle").attr("font-size", 30)
  .text(d => d);
</script>
</body>
</html>
